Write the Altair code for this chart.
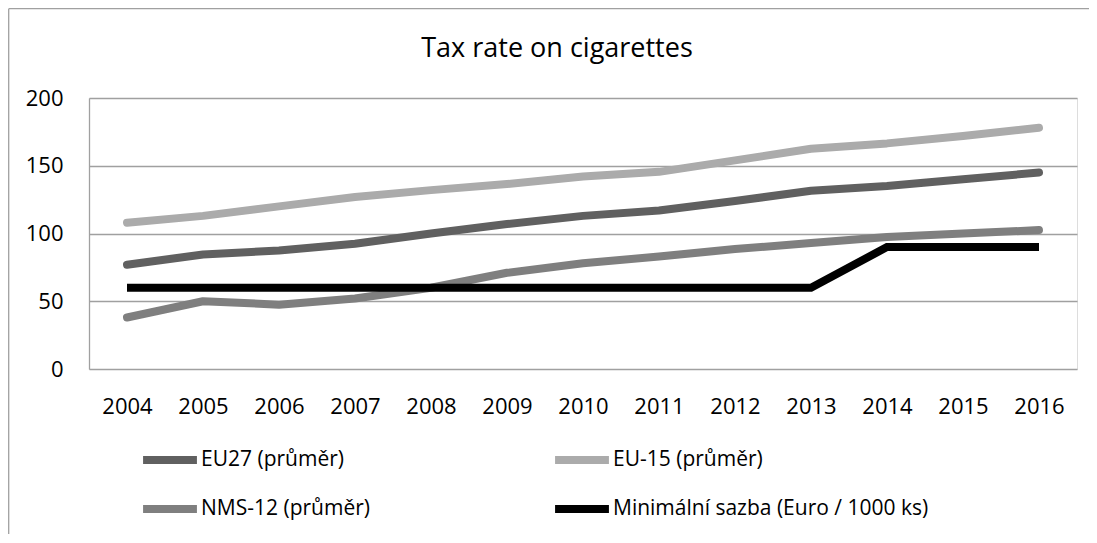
import altair as alt
import pandas as pd

years = [str(y) for y in range(2004, 2017)]
series_names = ["EU27 (průměr)", "EU-15 (průměr)", "NMS-12 (průměr)", "Minimální sazba (Euro / 1000 ks)"]
eu27 = [77, 84.5, 87.5, 92.5, 100, 107, 113, 117, 124, 131.5, 135, 140, 145]
eu15 = [108, 113, 120, 127, 132, 136.5, 142, 145.5, 154, 162.5, 166.5, 172, 178]
nms12 = [38, 50, 47.5, 52, 60, 71, 78, 83, 88.5, 93, 97.5, 100, 102.5]
minimum = [60, 60, 60, 60, 60, 60, 60, 60, 60, 60, 90, 90, 90]

colors = ["#606060", "#ababab", "#7f7f7f", "#000000"]
widths = [8, 8, 8, 4.5]

rows = []
for name, vals in zip(series_names, [eu27, eu15, nms12, minimum]):
    for yr, v in zip(years, vals):
        rows.append({"year": yr, "value": v, "series": name})
df = pd.DataFrame(rows)

FONT = "Open Sans"

x_enc = alt.X("year:O", title=None, sort=years,
              scale=alt.Scale(type="point", padding=0.5),
              axis=alt.Axis(labelAngle=0, ticks=False, tickSize=0, domain=False,
                            grid=False, labelPadding=44, labelBaseline="alphabetic",
                            labelFont=FONT, labelFontSize=22, labelColor="#000000"))
y_enc = alt.Y("value:Q", title=None,
              scale=alt.Scale(domain=[0, 200], nice=False),
              axis=alt.Axis(values=[0, 50, 100, 150, 200], ticks=False, tickSize=0,
                            domain=True, domainColor="#a0a0a0", domainWidth=1.3,
                            grid=True, gridColor="#a0a0a0", gridWidth=1.3,
                            labelPadding=26, labelFont=FONT, labelFontSize=22,
                            labelColor="#000000"))
color_enc = alt.Color("series:N", title=None, sort=series_names,
                      scale=alt.Scale(domain=series_names, range=colors),
                      legend=alt.Legend(orient="none", legendX=50, legendY=331,
                                        direction="horizontal",
                                        columns=2, columnPadding=169, rowPadding=2,
                                        symbolType="stroke", symbolSize=2900,
                                        labelOffset=0, labelFontSize=21, labelFont=FONT,
                                        labelColor="#000000", labelLimit=500))
sw_enc = alt.StrokeWidth("series:N", title=None, sort=series_names,
                         scale=alt.Scale(domain=series_names, range=widths))

base = alt.Chart(df)

grey = base.transform_filter(
    alt.FieldOneOfPredicate(field="series", oneOf=series_names[:3])
).mark_line(strokeCap="round", strokeJoin="round").encode(
    x=x_enc, y=y_enc, color=color_enc, strokeWidth=sw_enc,
    order=alt.Order("year:O")
)
black = base.transform_filter(
    alt.FieldEqualPredicate(field="series", equal=series_names[3])
).mark_line(strokeCap="butt", strokeJoin="miter").encode(
    x=x_enc, y=y_enc, color=color_enc, strokeWidth=sw_enc
)

one = pd.DataFrame({"a": [0]})
frame_left = alt.Chart(one).mark_rule(color="#a0a0a0", strokeWidth=1.3).encode(
    x=alt.value(-80.3), y=alt.value(-89.3), y2=alt.value(436))
frame_top = alt.Chart(one).mark_rule(color="#a0a0a0", strokeWidth=1.3).encode(
    x=alt.value(-80.3), x2=alt.value(1000), y=alt.value(-89.3))

chart = alt.layer(frame_left, frame_top, grey, black).properties(
    width=988, height=271,
    title=alt.TitleParams("Tax rate on cigarettes", fontSize=27, font=FONT,
                          fontWeight="normal", color="#000000", anchor="middle",
                          dx=-26, offset=-76, baseline="alphabetic"),
    autosize=alt.AutoSizeParams(type="none"),
    padding={"left": 81, "top": 90, "right": 12, "bottom": 165},
).configure_view(stroke=None).configure(background="#ffffff")

chart.save("out.html", embed_options={"renderer": "svg", "actions": False})
